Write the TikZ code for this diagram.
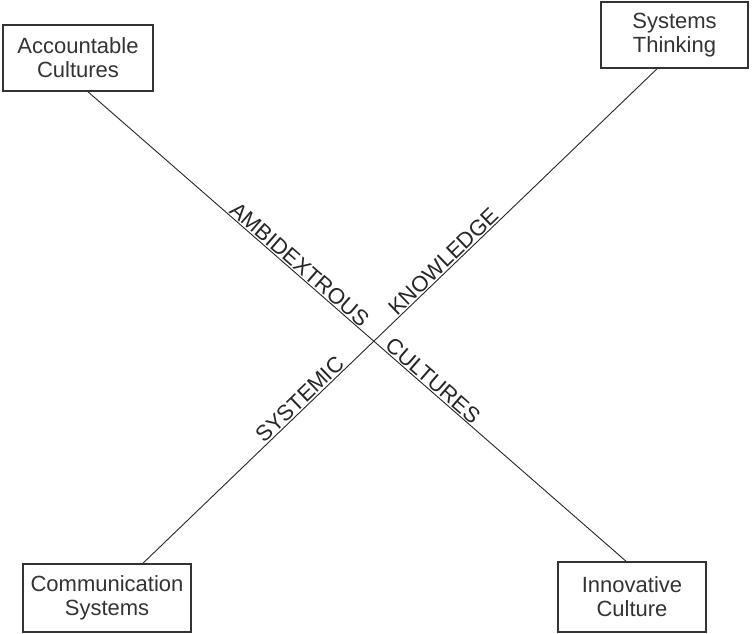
\documentclass[tikz,border=0pt]{standalone}
\usepackage{fontspec}
\setmainfont{Liberation Sans}
\begin{document}
\begin{tikzpicture}[x=1pt,y=-1pt,
  box/.style={draw=black!80,line width=1.6pt,text=black!80,align=center,inner sep=0pt,
    font=\fontsize{22}{24}\selectfont},
  conn/.style={draw=black!85,line width=0.9pt},
  lab/.style={sloped,above,inner sep=1pt,text=black!85,font=\fontsize{22}{24}\selectfont}]
\useasboundingbox (0,0) rectangle (752,634);
\node[box,minimum width=150pt,minimum height=66pt] (acc) at (78,58) {Accountable\\Cultures};
\node[box,minimum width=147pt,minimum height=66pt] (sys) at (674.5,35) {Systems\\Thinking};
\node[box,minimum width=168pt,minimum height=68pt] (com) at (107,598) {Communication\\Systems};
\node[box,minimum width=148pt,minimum height=70pt] (inn) at (632,597) {Innovative\\Culture};
\draw[conn] ([xshift=10pt]acc.south) -- node[lab,pos=0.382] (amb) {AMBIDEXTROUS}
  node[lab,pos=0.63] (cul) {CULTURES} ([xshift=-6pt]inn.north);
\draw[conn] ([xshift=36pt]com.north) -- node[lab,pos=0.318] (syst) {SYSTEMIC}
  node[lab,pos=0.597] (kno) {KNOWLEDGE} ([xshift=-17.5pt]sys.south);
\end{tikzpicture}
\end{document}
